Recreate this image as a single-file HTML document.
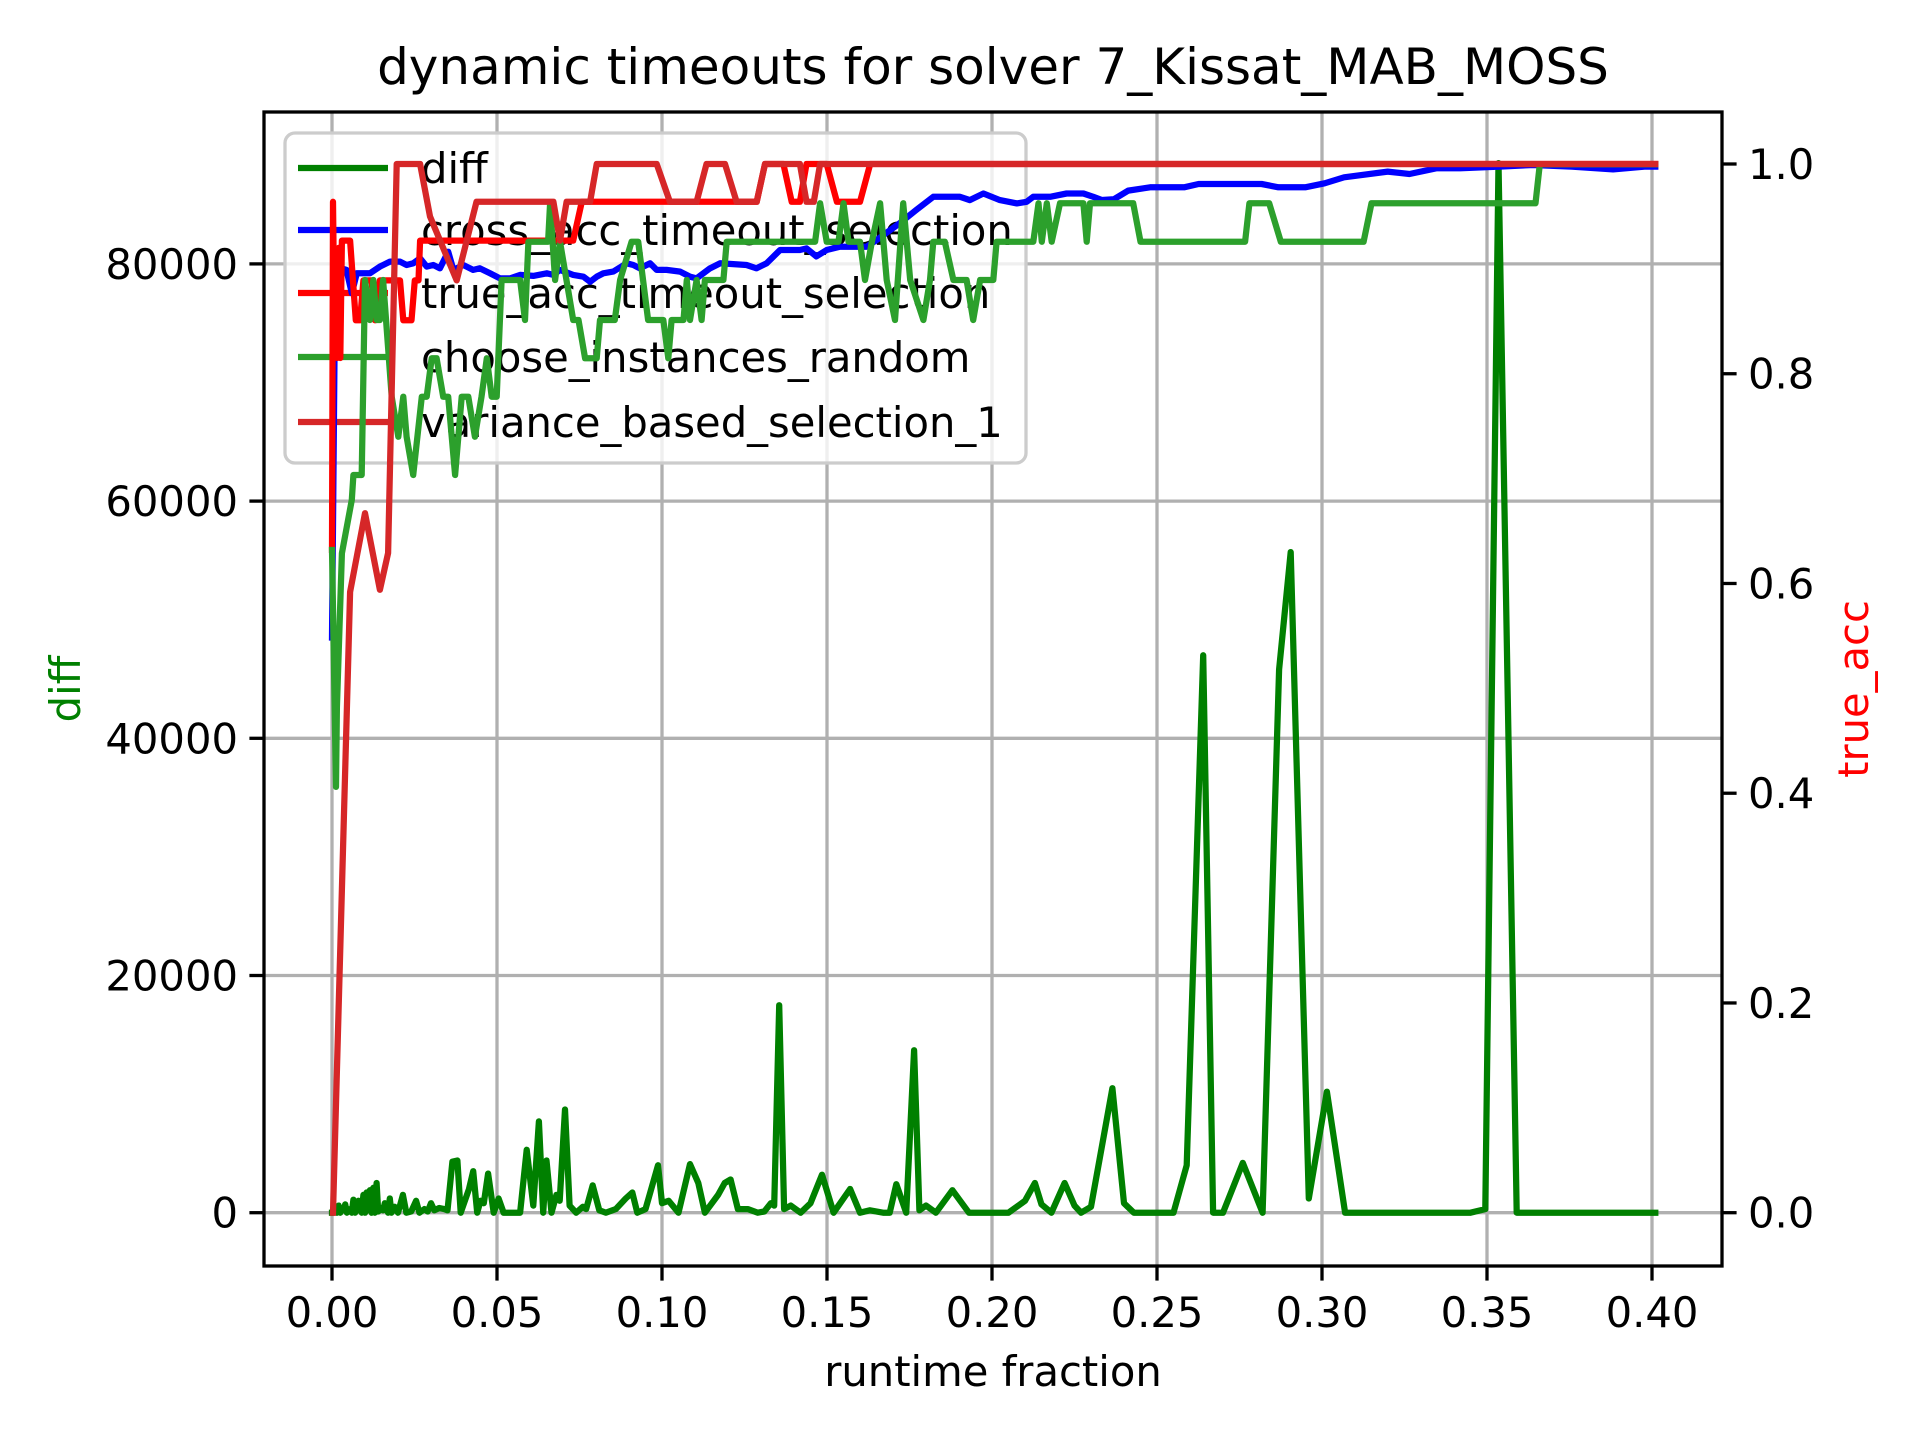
<!DOCTYPE html>
<html><head><meta charset="utf-8"><style>
html,body{margin:0;padding:0;background:#fff;}
svg text{font-family:"DejaVu Sans","Liberation Sans",sans-serif;}
</style></head><body>
<svg id="chart" width="1920" height="1440" viewBox="0 0 1920 1440" xmlns="http://www.w3.org/2000/svg">
<defs><clipPath id="clip"><rect x="264" y="112" width="1458" height="1154"/></clipPath></defs>
<rect x="0" y="0" width="1920" height="1440" fill="#fff"/>
<g id="grid"></g>
<g id="legend">
<rect x="285" y="133" width="741" height="330" rx="10" fill="#fff" fill-opacity="0.8" stroke="#cccccc" stroke-width="3.3"/>
<line x1="298" y1="168" x2="388" y2="168" stroke="#008000" stroke-width="6.25"/>
<text x="421" y="183" font-size="41.7">diff</text>
<line x1="298" y1="230" x2="388" y2="230" stroke="#0000ff" stroke-width="6.25"/>
<text x="421" y="245" font-size="41.7">cross_acc_timeout_selection</text>
<line x1="298" y1="293" x2="388" y2="293" stroke="#ff0000" stroke-width="6.25"/>
<text x="421" y="308" font-size="41.7">true_acc_timeout_selection</text>
<line x1="298" y1="357" x2="388" y2="357" stroke="#2ca02c" stroke-width="6.25"/>
<text x="421" y="372" font-size="41.7">choose_instances_random</text>
<line x1="298" y1="422" x2="388" y2="422" stroke="#d62728" stroke-width="6.25"/>
<text x="421" y="437" font-size="41.7">variance_based_selection_1</text>
</g>
<g id="series" clip-path="url(#clip)"></g>
<rect x="264" y="112" width="1458" height="1154" fill="none" stroke="#000" stroke-width="3.3"/>
<g id="ticks"></g>
<text x="993" y="84" font-size="50" text-anchor="middle">dynamic timeouts for solver 7_Kissat_MAB_MOSS</text>
<text x="993" y="1386" font-size="41.7" text-anchor="middle">runtime fraction</text>
<text transform="translate(80,689) rotate(-90)" font-size="41.7" text-anchor="middle" fill="#008000">diff</text>
<text transform="translate(1868,689) rotate(-90)" font-size="41.7" text-anchor="middle" fill="#ff0000">true_acc</text>
</svg>
<script>
const xTicks=[0,0.05,0.10,0.15,0.20,0.25,0.30,0.35,0.40];
const xTickLabels=["0.00","0.05","0.10","0.15","0.20","0.25","0.30","0.35","0.40"];
const yTicks=[0,20000,40000,60000,80000];
const yTickLabels=["0","20000","40000","60000","80000"];
const rTicks=[0,0.2,0.4,0.6,0.8,1.0];
const rTickLabels=["0.0","0.2","0.4","0.6","0.8","1.0"];
const diffData=[[0,0],[0.0005,0],[0.001,500],[0.0015,0],[0.002,600],[0.0025,0],[0.003,400],[0.0035,200],[0.004,700],[0.0045,0],[0.005,300],[0.006,0],[0.0065,1100],[0.007,0],[0.008,1000],[0.0085,200],[0.009,0],[0.0095,1500],[0.010,0],[0.0105,1700],[0.011,200],[0.0115,1900],[0.012,0],[0.0125,2100],[0.013,0],[0.0135,2500],[0.014,100],[0.015,400],[0.0155,200],[0.016,800],[0.017,0],[0.0175,1200],[0.018,0],[0.019,500],[0.02,0],[0.0215,1500],[0.0225,0],[0.024,100],[0.0255,1000],[0.0265,0],[0.028,300],[0.029,100],[0.030,800],[0.031,200],[0.0325,400],[0.034,300],[0.035,200],[0.0365,4300],[0.038,4400],[0.039,0],[0.0415,2000],[0.0428,3500],[0.044,0],[0.045,1000],[0.046,800],[0.0473,3300],[0.049,0],[0.0505,1200],[0.052,0],[0.057,0],[0.059,5300],[0.061,600],[0.0627,7700],[0.064,0],[0.065,4400],[0.0665,0],[0.068,1500],[0.069,1000],[0.0706,8700],[0.072,600],[0.074,0],[0.076,500],[0.077,300],[0.079,2300],[0.081,200],[0.083,0],[0.086,300],[0.089,1200],[0.091,1700],[0.0925,0],[0.095,300],[0.0988,4000],[0.1,800],[0.102,1000],[0.105,0],[0.1085,4100],[0.111,2500],[0.113,0],[0.117,1500],[0.119,2500],[0.1208,2800],[0.123,300],[0.126,300],[0.129,0],[0.131,100],[0.133,800],[0.134,600],[0.1355,17500],[0.137,300],[0.139,600],[0.142,0],[0.145,800],[0.1485,3200],[0.152,0],[0.157,2000],[0.16,0],[0.163,200],[0.167,0],[0.169,0],[0.171,2400],[0.174,0],[0.1764,13700],[0.178,200],[0.18,600],[0.183,0],[0.188,1900],[0.193,0],[0.2,0],[0.205,0],[0.21,1000],[0.213,2500],[0.215,700],[0.218,0],[0.222,2500],[0.225,600],[0.227,0],[0.23,500],[0.2365,10500],[0.24,800],[0.243,0],[0.25,0],[0.255,0],[0.259,4000],[0.264,47000],[0.267,0],[0.27,0],[0.276,4200],[0.282,0],[0.287,45800],[0.2905,55700],[0.296,1200],[0.3015,10200],[0.307,0],[0.345,0],[0.3495,300],[0.3535,88500],[0.359,0],[0.401,0]];
const crossData=[[0,48500],[0.001,79770],[0.0044,79490],[0.006,77530],[0.0075,79210],[0.0115,79210],[0.0145,79770],[0.0176,80190],[0.0206,80190],[0.0226,79910],[0.0246,80050],[0.0267,80470],[0.0287,79770],[0.0307,79910],[0.0327,79630],[0.0352,81030],[0.0368,79490],[0.0398,79910],[0.0428,79490],[0.0448,79630],[0.0479,79210],[0.0509,78780],[0.0539,78780],[0.057,79070],[0.061,78990],[0.0651,79210],[0.0671,79070],[0.0691,79490],[0.0731,79070],[0.0762,78920],[0.0782,78500],[0.0802,78920],[0.0822,79210],[0.0852,79350],[0.0893,80050],[0.0913,79910],[0.0933,79630],[0.0964,80050],[0.0984,79490],[0.1014,79490],[0.1055,79350],[0.1085,78920],[0.1105,78780],[0.1145,79620],[0.1176,80050],[0.1256,79910],[0.1286,79630],[0.1317,80050],[0.1358,81170],[0.1418,81170],[0.1438,81310],[0.1468,80630],[0.1499,81170],[0.1539,81450],[0.162,81450],[0.165,82010],[0.172,83420],[0.177,84540],[0.1822,85660],[0.1903,85660],[0.1933,85380],[0.1974,85940],[0.2024,85380],[0.2075,85100],[0.2105,85240],[0.2125,85660],[0.2176,85660],[0.2226,85940],[0.2277,85940],[0.2307,85660],[0.2333,85390],[0.2369,85450],[0.2413,86180],[0.2479,86460],[0.2582,86460],[0.2626,86740],[0.2817,86740],[0.2868,86460],[0.2949,86460],[0.3008,86800],[0.3067,87300],[0.3199,87780],[0.3265,87580],[0.3346,88060],[0.3419,88060],[0.3537,88200],[0.364,88340],[0.3757,88200],[0.3882,87970],[0.3977,88200],[0.401,88200]];
const trueAccData=[[0,0.632],[0.0003,0.964],[0.0008,0.83],[0.0012,0.89],[0.0016,0.815],[0.002,0.92],[0.0025,0.815],[0.003,0.927],[0.0055,0.927],[0.0072,0.851],[0.0085,0.851],[0.0095,0.889],[0.012,0.889],[0.013,0.851],[0.0145,0.889],[0.0206,0.889],[0.0216,0.851],[0.0241,0.851],[0.0251,0.889],[0.0262,0.889],[0.0267,0.927],[0.0731,0.927],[0.0757,0.964],[0.1287,0.964],[0.1312,1.0],[0.1368,1.0],[0.1393,0.964],[0.1418,0.964],[0.1438,1.0],[0.1499,1.0],[0.153,0.964],[0.16,0.964],[0.1631,1.0],[0.401,1.0]];
const chooseData=[[0,55880],[0.0012,35900],[0.0015,42600],[0.003,55600],[0.006,60100],[0.0065,62200],[0.009,62200],[0.010,78640],[0.0115,75270],[0.0125,78640],[0.0135,75270],[0.0145,75270],[0.0155,78640],[0.0181,68800],[0.0201,65430],[0.0216,68800],[0.0226,65430],[0.0246,62200],[0.0272,68800],[0.0287,68800],[0.0302,72040],[0.0317,72040],[0.0337,68800],[0.0352,68800],[0.0373,62200],[0.0393,68800],[0.0413,68800],[0.0433,65430],[0.0453,68800],[0.0469,72040],[0.0484,68800],[0.0499,68800],[0.0514,78640],[0.057,78640],[0.0585,75270],[0.0595,81870],[0.0655,81870],[0.0661,85110],[0.0676,78640],[0.0691,81870],[0.0731,75270],[0.0747,75270],[0.0767,72040],[0.0802,72040],[0.0812,75270],[0.0857,75270],[0.0873,78640],[0.0908,81870],[0.0928,81870],[0.0958,75270],[0.1004,75270],[0.1019,72040],[0.1029,75270],[0.1065,75270],[0.1075,78640],[0.1085,75270],[0.1105,78640],[0.112,75270],[0.113,78640],[0.1186,78640],[0.1196,81870],[0.1464,81870],[0.1479,85110],[0.1499,81870],[0.1535,81870],[0.155,85110],[0.1565,81870],[0.16,81870],[0.1615,78640],[0.1636,81870],[0.1661,85110],[0.1681,78640],[0.1706,75270],[0.1731,85110],[0.1752,78640],[0.1792,75270],[0.1812,78640],[0.1822,81870],[0.1857,81870],[0.1883,78640],[0.1923,78640],[0.1943,75270],[0.1964,78640],[0.2004,78640],[0.2014,81870],[0.2125,81870],[0.2141,85110],[0.2151,81870],[0.2166,85110],[0.2181,81870],[0.2206,85110],[0.2277,85110],[0.2287,81870],[0.2297,85110],[0.2428,85110],[0.245,81870],[0.2767,81870],[0.278,85110],[0.284,85110],[0.2875,81870],[0.3126,81870],[0.315,85110],[0.3647,85110],[0.366,88400],[0.401,88400]];
const varianceData=[[0.0003,0],[0.0055,0.592],[0.010,0.667],[0.0145,0.594],[0.017,0.629],[0.0196,1.0],[0.0267,1.0],[0.0297,0.95],[0.0378,0.889],[0.0438,0.964],[0.0671,0.964],[0.0691,0.927],[0.0711,0.964],[0.0782,0.964],[0.0802,1.0],[0.0984,1.0],[0.1024,0.964],[0.1105,0.964],[0.1135,1.0],[0.1191,1.0],[0.1226,0.964],[0.1287,0.964],[0.1312,1.0],[0.1418,1.0],[0.1438,0.964],[0.146,0.964],[0.1479,1.0],[0.401,1.0]];

const NS="http://www.w3.org/2000/svg";
const L=264,R=1722,T=112,B=1266;
function X(v){return 332+v*3300;}
function YL(v){return 1212.7-v*237.2/20000;}
function YR(v){return 1212.7-v*1048.7;}
function mk(tag,attrs,parent){const e=document.createElementNS(NS,tag);for(const k in attrs)e.setAttribute(k,attrs[k]);parent.appendChild(e);return e;}
const grid=document.getElementById('grid'),ticks=document.getElementById('ticks'),series=document.getElementById('series');
xTicks.forEach((t,i)=>{
  const g=mk('line',{x1:X(t),x2:X(t),y1:T,y2:B,stroke:'#b0b0b0','stroke-width':3.3},grid);
  
  
  const tk=mk('line',{x1:X(t),x2:X(t),y1:B,y2:B+14.6,stroke:'#000','stroke-width':3.3},ticks);
  
  
  const tx=mk('text',{x:X(t),y:1327,'font-size':41.7,'text-anchor':'middle'},ticks);
  tx.textContent=xTickLabels[i];
  
  
});
yTicks.forEach((t,i)=>{
  const g=mk('line',{x1:L,x2:R,y1:YL(t),y2:YL(t),stroke:'#b0b0b0','stroke-width':3.3},grid);
  
  
  const tk=mk('line',{x1:L-14.6,x2:L,y1:YL(t),y2:YL(t),stroke:'#000','stroke-width':3.3},ticks);
  
  
  const tx=mk('text',{x:L-26,y:YL(t)+15,'font-size':41.7,'text-anchor':'end'},ticks);
  tx.textContent=yTickLabels[i];
  
  
});
rTicks.forEach((t,i)=>{
  const tk=mk('line',{x1:R,x2:R+14.6,y1:YR(t),y2:YR(t),stroke:'#000','stroke-width':3.3},ticks);
  
  
  const tx=mk('text',{x:R+26,y:YR(t)+15,'font-size':41.7,'text-anchor':'start'},ticks);
  tx.textContent=rTickLabels[i];
  
  
});
function draw(data,yf,color,name){
  const d=data.map((p,i)=>(i?'L':'M')+X(p[0]).toFixed(1)+','+yf(p[1]).toFixed(1)).join(' ');
  const p=mk('path',{d:d,fill:'none',stroke:color,'stroke-width':6.25,'stroke-linejoin':'round','stroke-linecap':'square'},series);
  
  
}
draw(diffData,YL,'#008000','diff-line');
draw(crossData,YL,'#0000ff','cross-acc-line');
draw(trueAccData,YR,'#ff0000','true-acc-line');
draw(chooseData,YL,'#2ca02c','choose-random-line');
draw(varianceData,YR,'#d62728','variance-line');
</script>
</body></html>
